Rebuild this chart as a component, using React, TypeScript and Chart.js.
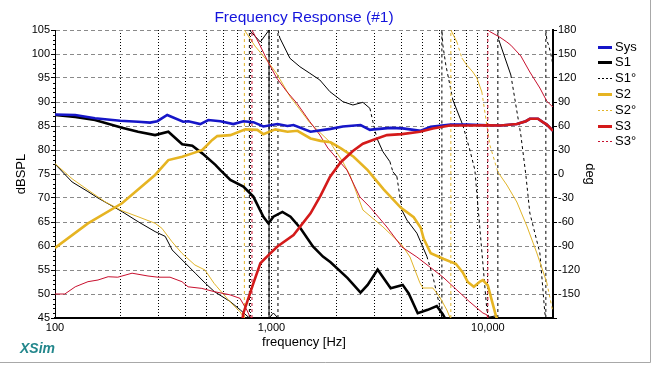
import React, { useEffect, useRef } from 'react';
import { Chart, registerables } from 'chart.js';

Chart.register(...registerables);

const FONT = "'Liberation Sans', Arial, Helvetica, sans-serif";

const TITLE = 'Frequency Response (#1)';
const X_TITLE = 'frequency [Hz]';
const Y_TITLE = 'dBSPL';
const Y2_TITLE = 'deg';
const BRAND = 'XSim';

// x axis ticks (log grid) and labels
const xTicks = [100, 200, 300, 400, 500, 600, 700, 800, 900, 1000, 2000, 3000, 4000, 5000, 6000, 7000, 8000, 9000, 10000, 20000];
const xLabels: Record<number, string> = { 100: '100', 1000: '1,000', 10000: '10,000' };

// System response (dB)
const sysFreq = [100, 124, 153, 200, 242, 275, 297, 330, 391, 413, 469, 511, 581, 667, 742, 825, 918, 1066, 1186, 1265, 1516, 1876, 2139, 2582, 2851, 2967, 3556, 4041, 4896, 5447, 6743, 8000, 10000, 11486, 13613, 14984, 15631, 17040, 17950, 18730, 20000];
const sysDb = [87.4, 87.3, 86.6, 86.1, 85.9, 85.7, 86.0, 87.3, 85.9, 86.0, 85.4, 86.25, 86.0, 85.4, 86.0, 85.8, 84.9, 85.4, 85.0, 85.2, 83.8, 84.4, 84.9, 85.2, 84.2, 84.3, 84.6, 84.5, 84.0, 84.85, 85.3, 85.3, 85.15, 85.1, 85.4, 86.0, 86.5, 86.5, 85.8, 85.3, 84.0];

// S1 (woofer) SPL
const s1Freq = [100, 124, 153, 204, 242, 290, 334, 387, 431, 479, 551, 581, 646, 742, 825, 918, 969, 1021, 1124, 1225, 1362, 1555, 1730, 1876, 2249, 2582, 2783, 3095, 3556, 4041, 4308, 4742, 5275, 5807, 6190, 6500];
const s1Db = [87.3, 86.9, 86.25, 84.65, 83.8, 83.1, 83.8, 81.2, 80.9, 79.3, 76.9, 75.8, 73.75, 72.4, 70.3, 66.1, 64.7, 66.1, 67.1, 66.1, 63.7, 59.9, 57.8, 56.6, 53.3, 50.3, 51.9, 55.1, 51.2, 51.9, 50.1, 46.0, 46.7, 47.5, 45.8, 44.0];

// S2 (mid) SPL
const s2Freq = [100, 142, 204, 290, 334, 387, 431, 479, 533, 562, 646, 758, 861, 918, 1043, 1186, 1319, 1516, 1687, 1876, 2086, 2397, 2783, 2967, 3300, 3956, 4544, 4896, 5055, 5447, 6256, 7112, 7660, 8079, 8613, 9200, 9482, 10000, 10450, 10890, 11200];
const s2Db = [59.6, 64.7, 68.9, 74.8, 77.9, 78.6, 79.3, 80.0, 82.1, 82.9, 83.1, 84.3, 84.2, 83.3, 84.3, 83.8, 84.0, 82.4, 81.9, 81.6, 80.4, 78.6, 75.8, 74.3, 71.8, 68.0, 66.0, 63.8, 61.5, 58.5, 57.3, 56.3, 54.5, 52.5, 51.5, 52.6, 52.9, 51.8, 48.5, 45.5, 44.0];

// S3 (tweeter) SPL
const s3Freq = [730, 742, 825, 889, 969, 1066, 1265, 1516, 1687, 1863, 2086, 2379, 2646, 2943, 3416, 4007, 4851, 5572, 6674, 8000, 10000, 11486, 13613, 14984, 15631, 17040, 17950, 18730, 20000];
const s3Db = [44, 46, 52.2, 56.4, 58.1, 59.9, 62.3, 66.8, 70.5, 74.4, 77.4, 79.8, 81.3, 82.1, 83.1, 83.3, 83.8, 84.5, 85.1, 85.1, 85.15, 85.1, 85.4, 86.0, 86.5, 86.5, 85.8, 85.3, 84.0];

// Phases (deg), wraps at +/-180 given as repeated frequencies
const s1PhFreq = [100, 120, 142, 158, 204, 242, 290, 323, 348, 387, 445, 495, 545, 646, 719, 791, 791, 889, 975, 975, 1021, 1072, 1072, 1094, 1218, 1354, 1505, 1674, 1863, 2139, 2379, 2646, 2851, 2943, 3072, 3171, 3273, 3527, 3640, 3800, 4007, 4226, 4700, 5227, 5572, 6001, 6132, 6132, 6197, 6397, 6605, 6893, 7664, 8258, 8710, 9284, 9895, 10107, 11007, 11123, 11123, 11240, 12772, 14205, 14984, 15631, 17393, 18339, 18534, 18534, 18730, 19130, 19544, 20000];
const s1PhDeg = [12.5, -10, -22, -30, -47, -59.6, -72, -78, -95, -107.5, -124, -136.6, -147, -159.6, -170, -180, 180, 165, 180, -180, -173.75, -180, 180, 170, 144.6, 134.1, 125.9, 117.5, 102.9, 90.4, 86.25, 89.6, 82.1, 65.4, 44.6, 36.25, 28, 15.4, 2.9, -3.4, -45, -57.5, -74, -103, -128, -166, -180, 180, 161, 136, 117.5, 92.5, 61, 30, 5, -82.5, -170, -179, -177, -180, 180, 167.5, 123.75, 48.75, -1.25, -48.75, -98.75, -173.75, -180, 180, 167.5, 160, 150, 136];

const s2PhFreq = [100, 120, 142, 170, 204, 242, 290, 312, 347, 386, 443, 493, 543, 560, 643, 715, 750, 750, 839, 954, 1060, 1218, 1505, 1863, 2139, 2305, 2646, 3273, 4007, 4367, 4851, 5009, 5572, 6001, 6464, 6674, 6745, 6745, 7193, 7585, 7998, 8525, 8897, 9382, 9686, 10214, 11123, 12241, 13613, 15140, 16839, 18730, 19750, 20000];
const s2PhDeg = [13, -6, -20, -34.6, -45.9, -53.4, -61.6, -67.9, -84.6, -99.1, -113.75, -120, -136.6, -140.9, -159.6, -172.1, -180, 180, 160, 142, 125, 97, 64, 40, 15, -1.25, -45, -66, -88.75, -103.75, -136, -142.5, -142.5, -154, -170, -179, -180, 180, 165, 145, 136, 127.5, 120, 102.5, 77.5, 36.25, 2.5, -13.75, -35, -65, -98.75, -136, -166, -172.5];

const s3PhFreq = [100, 111, 124, 142, 158, 176, 195, 227, 269, 299, 340, 386, 412, 477, 543, 643, 715, 770, 794, 813, 813, 885, 963, 1060, 1179, 1312, 1505, 1674, 1822, 2232, 2563, 2851, 3416, 4007, 4700, 5396, 6197, 7193, 8258, 9483, 9895, 10000, 10000, 10214, 11363, 12241, 12772, 14205, 15631, 17393, 18730, 19750, 20000];
const s3PhDeg = [-150, -150, -141, -134.6, -132.5, -128.4, -129, -124, -127.5, -129, -129, -134.6, -141, -143, -147, -151, -155.4, -170, -178, -180, 180, 161, 140.4, 119.6, 102.9, 88.4, 65.4, 48.75, 32.5, 5, -28.75, -41.25, -66.25, -91.25, -103.75, -116.25, -128.75, -145, -160, -173.75, -176, -180, 180, 178, 171, 165, 161, 147.5, 127.5, 107.5, 91, 85, 84];

const BLUE = '#1616c8';
const BLACK = '#000000';
const GOLD = '#e6b422';
const RED = '#d41a1a';
const GOLD_THIN = '#e2b52a';
const RED_THIN = '#c8102e';

const pts = (fs: number[], vs: number[]) => fs.map((f, i) => ({ x: f, y: vs[i] }));

// thin phase traces: steep segments look dashed (like the original GDI pen)
const steepDash = (ctx: any) => {
  const dx = Math.abs(ctx.p1.x - ctx.p0.x);
  const dy = Math.abs(ctx.p1.y - ctx.p0.y);
  return dy > 3 * dx && dy > 4 ? [3, 3] : undefined;
};

const legendItems = [
  { label: 'Sys', color: BLUE, width: 3, dash: [] as number[] },
  { label: 'S1', color: BLACK, width: 3, dash: [] as number[] },
  { label: 'S1°', color: BLACK, width: 1, dash: [2, 2] },
  { label: 'S2', color: GOLD, width: 3, dash: [] as number[] },
  { label: 'S2°', color: GOLD_THIN, width: 1, dash: [2, 2] },
  { label: 'S3', color: RED, width: 3, dash: [] as number[] },
  { label: 'S3°', color: RED_THIN, width: 1, dash: [2, 2] },
];

const decorPlugin = {
  id: 'decor',
  beforeDraw(chart: any) {
    const { ctx, width, height } = chart;
    ctx.save();
    ctx.fillStyle = '#ffffff';
    ctx.fillRect(0, 0, width, height);
    ctx.restore();
  },
  afterDraw(chart: any) {
    const { ctx, chartArea } = chart;
    const y = chart.scales.y;
    ctx.save();
    // minor ticks on the dB axis
    ctx.strokeStyle = '#000';
    ctx.lineWidth = 1;
    for (let v = 45; v <= 105; v++) {
      if (v % 5 === 0) continue;
      const py = Math.round(y.getPixelForValue(v)) + 0.5;
      ctx.beginPath();
      ctx.moveTo(chartArea.left - 2, py);
      ctx.lineTo(chartArea.left, py);
      ctx.stroke();
    }
    // title
    ctx.font = `15.5px ${FONT}`;
    ctx.fillStyle = '#1414dc';
    ctx.textAlign = 'center';
    ctx.textBaseline = 'alphabetic';
    ctx.fillText(TITLE, (chartArea.left + chartArea.right) / 2, 21.5);
    // brand
    ctx.font = `bold italic 14px ${FONT}`;
    ctx.fillStyle = '#23878c';
    ctx.textAlign = 'left';
    ctx.fillText(BRAND, 20, 353);
    // legend
    ctx.font = `13px ${FONT}`;
    ctx.textBaseline = 'middle';
    legendItems.forEach((it, i) => {
      const ly = Math.round(46.5 + i * 15.8) + 0.5;
      ctx.strokeStyle = it.color;
      ctx.lineWidth = it.width;
      ctx.setLineDash(it.dash);
      ctx.beginPath();
      ctx.moveTo(598, ly);
      ctx.lineTo(612, ly);
      ctx.stroke();
      ctx.setLineDash([]);
      ctx.fillStyle = '#000';
      ctx.fillText(it.label, 615, ly);
    });
    // window frame
    ctx.strokeStyle = '#a8a8a8';
    ctx.lineWidth = 1;
    ctx.beginPath();
    ctx.moveTo(650.5, 0);
    ctx.lineTo(650.5, 362.5);
    ctx.lineTo(0, 362.5);
    ctx.stroke();
    ctx.restore();
  },
};

export default function App() {
  const ref = useRef<HTMLCanvasElement>(null);

  useEffect(() => {
    const tickFont = { family: FONT, size: 11 };
    const titleFont = { family: FONT, size: 13 };
    const chart = new Chart(ref.current as HTMLCanvasElement, {
      type: 'line',
      data: {
        datasets: [
          { label: 'S3', data: pts(s3Freq, s3Db), borderColor: RED, borderWidth: 2.6, yAxisID: 'y', order: 1 },
          { label: 'Sys', data: pts(sysFreq, sysDb), borderColor: BLUE, borderWidth: 2.6, yAxisID: 'y', order: 2 },
          { label: 'S2', data: pts(s2Freq, s2Db), borderColor: GOLD, borderWidth: 2.6, yAxisID: 'y', order: 3 },
          { label: 'S1', data: pts(s1Freq, s1Db), borderColor: BLACK, borderWidth: 2.6, yAxisID: 'y', order: 4 },
          { label: 'S1°', data: pts(s1PhFreq, s1PhDeg), borderColor: BLACK, borderWidth: 1, yAxisID: 'y2', order: 7, segment: { borderDash: steepDash } },
          { label: 'S2°', data: pts(s2PhFreq, s2PhDeg), borderColor: GOLD_THIN, borderWidth: 1, yAxisID: 'y2', order: 6, segment: { borderDash: steepDash } },
          { label: 'S3°', data: pts(s3PhFreq, s3PhDeg), borderColor: RED_THIN, borderWidth: 1, yAxisID: 'y2', order: 5, segment: { borderDash: steepDash } },
        ] as any,
      },
      options: {
        animation: false,
        responsive: false,
        maintainAspectRatio: false,
        devicePixelRatio: 1,
        layout: { padding: { top: 30, left: 0, right: 0, bottom: 0 } },
        elements: { point: { radius: 0 }, line: { tension: 0, fill: false } },
        plugins: { legend: { display: false }, tooltip: { enabled: false }, title: { display: false } },
        scales: {
          x: {
            type: 'logarithmic',
            min: 100,
            max: 20000,
            afterBuildTicks: (scale: any) => {
              scale.ticks = xTicks.map((v) => ({ value: v }));
            },
            afterFit: (scale: any) => {
              scale.height = 47;
            },
            ticks: {
              autoSkip: false,
              maxRotation: 0,
              padding: 3,
              color: '#000',
              font: tickFont,
              callback: (v: any) => xLabels[Number(v)] ?? '',
            },
            grid: { color: '#000', lineWidth: 1, drawTicks: false },
            border: { display: true, color: '#000', width: 2, dash: [1, 2] },
            title: { display: true, text: X_TITLE, color: '#000', font: titleFont, padding: { top: 0, bottom: 15 } },
          },
          y: {
            position: 'left',
            min: 45,
            max: 105,
            afterFit: (scale: any) => {
              scale.width = 55;
            },
            ticks: { stepSize: 5, padding: 1, color: '#000', font: tickFont },
            grid: { color: '#8a8a8a', lineWidth: 1, drawTicks: true, tickLength: 4, tickColor: '#000', tickBorderDash: [] },
            border: { display: true, color: '#000', width: 1, dash: [4, 3] },
            title: { display: true, text: Y_TITLE, color: '#000', font: titleFont, padding: { top: 14, bottom: 0 } },
          },
          y2: {
            position: 'right',
            min: -180,
            max: 180,
            afterFit: (scale: any) => {
              scale.width = 100;
            },
            ticks: {
              stepSize: 30,
              padding: 1,
              color: '#000',
              font: tickFont,
              callback: (v: any) => (Number(v) === -180 ? '' : String(v)),
            },
            grid: { drawOnChartArea: false, drawTicks: true, tickLength: 4, tickColor: '#000', tickBorderDash: [] },
            border: { display: true, color: '#000', width: 2 },
            title: { display: true, text: Y2_TITLE, color: '#000', font: titleFont, padding: { top: 56, bottom: 0 } },
          },
        },
      } as any,
      plugins: [decorPlugin],
    });
    return () => chart.destroy();
  }, []);

  return (
    <div style={{ position: 'absolute', left: 0, top: 0, width: 653, height: 365, background: '#fff' }}>
      <canvas ref={ref} width={653} height={365} style={{ display: 'block', width: 653, height: 365 }} />
    </div>
  );
}
